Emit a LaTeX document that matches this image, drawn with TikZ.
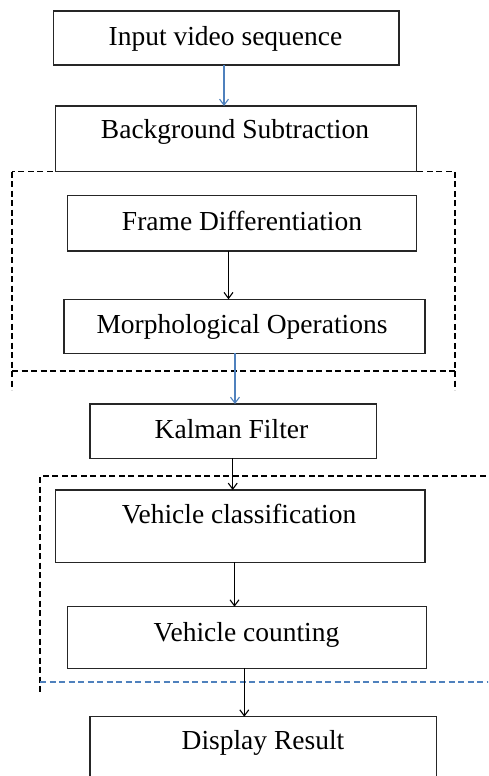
\documentclass[tikz,border=0pt]{standalone}
\usepackage{fontspec}
\setmainfont{Liberation Serif}
\usetikzlibrary{arrows.meta}
\definecolor{wblue}{RGB}{79,129,189}
\begin{document}
\begin{tikzpicture}[x=1pt,y=-1pt,
  box/.style={draw=black!85, line width=1.4pt, inner sep=0pt, outer sep=0pt},
  lbl/.style={anchor=base, inner sep=0pt, font=\fontsize{27.5}{31}\selectfont},
  arr/.style={line width=1.1pt, -{Straight Barb[length=6pt,width=9pt]}},
  dsh/.style={line width=1.2pt, dash pattern=on 6pt off 3.5pt}]
\clip (0,0) rectangle (488,776);
\fill[white] (0,0) rectangle (488,776);
% dashed groups
\draw[dsh] (12,171.5) rectangle (455,371);
\draw[dsh] (12,371) -- (12,390);
\draw[dsh] (455,371) -- (455,390);
\draw[dsh] (495,476) -- (40,476) -- (40,693);
\draw[dsh, wblue] (40,682) -- (495,682);
% boxes
\node[box, minimum width=345.7, minimum height=54] (b1) at (226.2,38) {};
\node[box, minimum width=361, minimum height=65.3] (b2) at (236.2,138.65) {};
\node[box, minimum width=349, minimum height=55.3] (b3) at (242.2,223.35) {};
\node[box, minimum width=361, minimum height=54] (b4) at (244.5,326.3) {};
\node[box, minimum width=286.7, minimum height=54.3] (b5) at (233.35,431.15) {};
\node[box, minimum width=369.3, minimum height=72.3] (b6) at (240.35,526.15) {};
\node[box, minimum width=359, minimum height=61.6] (b7) at (247.2,637.5) {};
\node[box, minimum width=346.7, minimum height=83.3] (b8) at (263.35,758.35) {};
% labels
\node[lbl] (t1) at (225.5,46) {Input video sequence};
\node[lbl] (t2) at (235,138) {Background Subtraction};
\node[lbl] (t3) at (242,230) {Frame Differentiation};
\node[lbl] (t4) at (242,333) {Morphological Operations};
\node[lbl] (t5) at (231.5,438) {Kalman Filter};
\node[lbl] (t6) at (239,523) {Vehicle classification};
\node[lbl] (t7) at (246.5,641) {Vehicle counting};
\node[lbl] (t8) at (263,749) {Display Result};
% connectors
\draw[arr, wblue] (b1.south -| 224,0) -- (b2.north -| 224,0);
\draw[arr] (b3.south -| 228.5,0) -- (b4.north -| 228.5,0);
\draw[arr, wblue] (b4.south -| 235,0) -- (b5.north -| 235,0);
\draw[arr] (b5.south -| 232.7,0) -- (b6.north -| 232.7,0);
\draw[arr] (b6.south -| 234.5,0) -- (b7.north -| 234.5,0);
\draw[arr] (b7.south -| 244.3,0) -- (b8.north -| 244.3,0);
\end{tikzpicture}
\end{document}
